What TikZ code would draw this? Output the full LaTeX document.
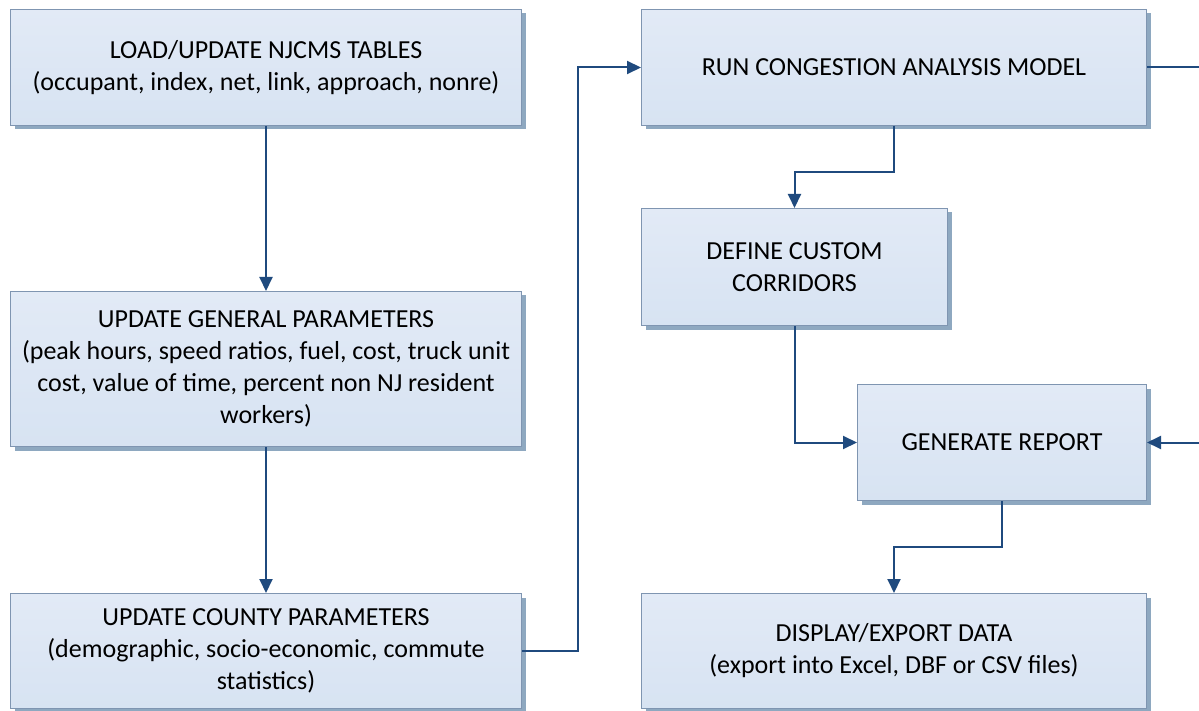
\documentclass[tikz,border=0pt]{standalone}
\usepackage{fontspec}
\setmainfont{Carlito}
\usetikzlibrary{arrows.meta,shadows}
\definecolor{boxfillA}{HTML}{E2EAF6}
\definecolor{boxfillB}{HTML}{D7E3F2}
\definecolor{boxline}{HTML}{7F95B1}
\definecolor{boxshadow}{HTML}{8EA8C0}
\definecolor{arrowcol}{HTML}{1F4A7E}
\tikzset{
  x=1pt,y=-1pt,
  procbox/.style={draw=boxline,line width=1pt,top color=boxfillA,bottom color=boxfillB,
    anchor=north west,inner sep=0pt,align=center,
    font=\fontsize{26}{32}\selectfont,
    drop shadow={shadow xshift=4pt,shadow yshift=-4pt,fill=boxshadow,opacity=1}},
  flow/.style={draw=arrowcol,line width=2pt,-{Triangle[length=14pt,width=13pt]}},
  flowplain/.style={draw=arrowcol,line width=2pt}
}
\begin{document}
\begin{tikzpicture}
\useasboundingbox[fill=white] (0,0) rectangle (1199,711);
\node[procbox,minimum width=511pt,minimum height=116pt] (b1) at (10,9)
  {LOAD/UPDATE NJCMS TABLES\\(occupant, index, net, link, approach, nonre)};
\node[procbox,minimum width=511pt,minimum height=155pt] (b2) at (10,291)
  {UPDATE GENERAL PARAMETERS\\(peak hours, speed ratios, fuel, cost, truck unit\\cost, value of time, percent non NJ resident\\workers)};
\node[procbox,minimum width=511pt,minimum height=115pt] (b3) at (10,593)
  {UPDATE COUNTY PARAMETERS\\(demographic, socio-economic, commute\\statistics)};
\node[procbox,minimum width=505pt,minimum height=116pt] (b4) at (641,9)
  {RUN CONGESTION ANALYSIS MODEL};
\node[procbox,minimum width=306pt,minimum height=117pt] (b5) at (641,208)
  {DEFINE CUSTOM\\CORRIDORS};
\node[procbox,minimum width=289pt,minimum height=116pt] (b6) at (857,384)
  {GENERATE REPORT};
\node[procbox,minimum width=505pt,minimum height=115pt] (b7) at (641,593)
  {DISPLAY/EXPORT DATA\\(export into Excel, DBF or CSV files)};
\coordinate (edgeR) at (1199,0);
\draw[flow] (b1.south) -- (b2.north);
\draw[flow] (b2.south) -- (b3.north);
\draw[flow] (b3.east) -- ++(56,0) |- (b4.west);
\draw[flow] (b4.south) -- ++(0,46) -| (b5.north);
\draw[flow] (b5.south) |- (b6.west);
\draw[flow] (b6.south) -- ++(0,46) -| (b7.north);
\draw[flowplain] (b4.east) -- (b4.east -| edgeR);
\draw[flow] (b6.east -| edgeR) -- (b6.east);
\end{tikzpicture}
\end{document}
